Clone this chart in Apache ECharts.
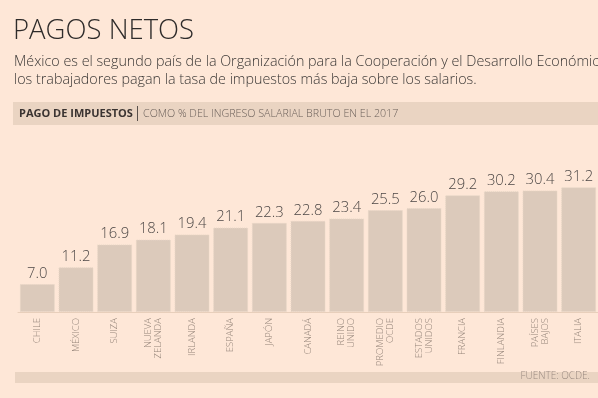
<!DOCTYPE html>
<html><head><meta charset="utf-8">
<script src="https://cdn.jsdelivr.net/npm/echarts@6/dist/echarts.min.js"></script>
<style>html,body{margin:0;padding:0;background:#fee7d7;}#c{width:598px;height:398px;}</style>
</head><body><div id="c"></div>
<script>
const categories = ['CHILE','MÉXICO','SUIZA','NUEVA\nZELANDA','IRLANDA','ESPAÑA','JAPÓN','CANADÁ','REINO\nUNIDO','PROMEDIO\nOCDE','ESTADOS\nUNIDOS','FRANCIA','FINLANDIA','PAÍSES\nBAJOS','ITALIA'];
const values = [7.0, 11.2, 16.9, 18.1, 19.4, 21.1, 22.3, 22.8, 23.4, 25.5, 26.0, 29.2, 30.2, 30.4, 31.2];
const titleText = 'PAGOS NETOS';
const subLine1 = 'México es el segundo país de la Organización para la Cooperación y el Desarrollo Económico';
const subLine2 = 'los trabajadores pagan la tasa de impuestos más baja sobre los salarios.';
const headBold = 'PAGO DE IMPUESTOS';
const headText = 'COMO % DEL INGRESO SALARIAL BRUTO EN EL 2017';
const sourceText = 'FUENTE: OCDE.';

const chart = echarts.init(document.getElementById('c'), null, {renderer:'canvas'});
const font = '"Open Sans", "Noto Sans", sans-serif';
chart.setOption({
  backgroundColor: '#fee7d7',
  animation: false,
  grid: {left: 18, top: 152, width: 586, bottom: 86, containLabel: false},
  xAxis: {
    type: 'category', data: categories,
    axisLine: {show: true, lineStyle: {color: '#e8cfbb', width: 1}},
    axisTick: {show: false},
    axisLabel: {rotate: 90, interval: 0, margin: 6, fontSize: 9.5, color: '#948479', fontFamily: font, fontWeight: 300, lineHeight: 10}
  },
  yAxis: {type: 'value', min: 0, max: 40, show: false, splitLine: {show: false}},
  series: [{
    type: 'bar', data: values, barWidth: 35,
    itemStyle: {color: '#dccabb', borderColor: '#e8d6c6', borderWidth: 1, borderType: 'dotted'},
    label: {show: true, position: 'top', distance: 3, fontSize: 14.8, color: '#4d4846', fontFamily: font, fontWeight: 300,
      formatter: p => p.value.toFixed(1)}
  }],
  graphic: [
    {type: 'text', left: 13, top: 17, style: {text: titleText, font: '300 27.5px ' + font, fill: '#2e2b2a'}},
    {type: 'text', left: 14, top: 55, style: {text: subLine1, font: '300 14.3px ' + font, fill: '#3a3735'}},
    {type: 'text', left: 14, top: 73, style: {text: subLine2, font: '300 14.3px ' + font, fill: '#3a3735'}},
    {type: 'rect', shape: {x: 13, y: 102, width: 600, height: 23}, style: {fill: '#ead4c2'}},
    {type: 'text', left: 19, top: 108, style: {text: headBold, font: 'bold 11px ' + font, fill: '#3a3331'}},
    {type: 'rect', shape: {x: 137, y: 106, width: 1, height: 15}, style: {fill: '#5a504b'}},
    {type: 'text', left: 143, top: 108, style: {text: headText, font: '300 10.7px ' + font, fill: '#6a5f59'}},
    {type: 'rect', shape: {x: 15, y: 372, width: 600, height: 11}, style: {fill: '#ead4c2'}},
    {type: 'text', right: 8, top: 371, style: {text: sourceText, font: '300 10px ' + font, fill: '#9a8a80'}}
  ]
});
</script></body></html>
